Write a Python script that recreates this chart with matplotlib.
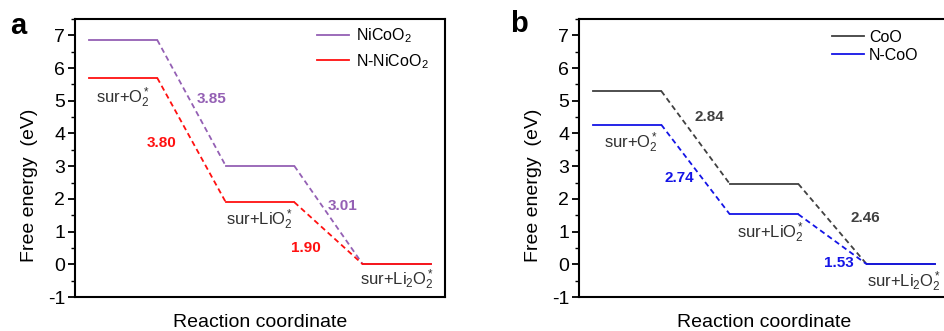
import matplotlib
matplotlib.use('Agg')
import matplotlib.pyplot as plt
from matplotlib.ticker import MultipleLocator

plt.rcParams['font.family'] = ['Liberation Sans', 'DejaVu Sans']
plt.rcParams['mathtext.fontset'] = 'custom'
plt.rcParams['mathtext.rm'] = 'Liberation Sans'
plt.rcParams['mathtext.it'] = 'Liberation Sans:italic'
plt.rcParams['mathtext.bf'] = 'Liberation Sans:bold'
plt.rcParams['axes.unicode_minus'] = False

# data
steps = ['sur+O$_2^*$', 'sur+LiO$_2^*$', 'sur+Li$_2$O$_2^*$']
nicoo2 = [6.86, 3.01, 0.0]
n_nicoo2 = [5.70, 1.90, 0.0]
coo = [5.30, 2.46, 0.0]
n_coo = [4.27, 1.53, 0.0]
gaps_a = [['3.85', '3.01'], ['3.80', '1.90']]
gaps_b = [['2.84', '2.46'], ['2.74', '1.53']]

purple = '#9460b4'
red = '#ff1010'
grey = '#404040'
blue = '#1414e6'
txt = '#303030'

fig = plt.figure(figsize=(9.44, 3.31), dpi=100)
ax1 = fig.add_axes([75 / 944, 1 - 297 / 331, 370 / 944, 278 / 331])
ax2 = fig.add_axes([579 / 944, 1 - 297 / 331, 370 / 944, 278 / 331])


def draw_path(ax, levels, color, label):
    for i, g in enumerate(levels):
        ax.plot([2 * i, 2 * i + 1], [g, g], color=color, lw=1.3,
                label=label if i == 0 else None)
        if i < len(levels) - 1:
            ax.plot([2 * i + 1, 2 * i + 2], [g, levels[i + 1]], color=color,
                    lw=1.3, ls=(0, (3, 2)))


def style(ax):
    ax.set_xlim(-0.2, 5.2)
    ax.set_ylim(-1, 7.5)
    ax.set_xticks([])
    ax.yaxis.set_major_locator(MultipleLocator(1))
    ax.yaxis.set_minor_locator(MultipleLocator(0.5))
    ax.tick_params(axis='y', which='major', direction='out', length=5,
                   width=1.3, labelsize=14, pad=2)
    ax.tick_params(axis='y', which='minor', direction='out', length=3,
                   width=1.0)
    for s in ax.spines.values():
        s.set_linewidth(1.5)
    ax.set_xlabel('Reaction coordinate', fontsize=14, labelpad=12)
    ax.set_ylabel('Free energy  (eV)', fontsize=14)
    ax.yaxis.set_label_coords(-0.10, 0.40)


# panel a
draw_path(ax1, nicoo2, purple, 'NiCoO$_2$')
draw_path(ax1, n_nicoo2, red, 'N-NiCoO$_2$')
style(ax1)
ax1.legend(loc='upper left', bbox_to_anchor=(0.653, 0.972), frameon=False,
           fontsize=11.5, handlelength=2.0, handletextpad=0.45,
           labelspacing=0.4, borderpad=0, borderaxespad=0)
ax1.text(0.5, 5.1, steps[0], fontsize=12, color=txt, ha='center', va='center')
ax1.text(2.5, 1.36, steps[1], fontsize=12, color=txt, ha='center', va='center')
ax1.text(4.5, -0.48, steps[2], fontsize=12, color=txt, ha='center', va='center')
ax1.text(1.79, 5.04, gaps_a[0][0], fontsize=11, color=purple, weight='bold',
         ha='center', va='center')
ax1.text(3.70, 1.79, gaps_a[0][1], fontsize=11, color=purple, weight='bold',
         ha='center', va='center')
ax1.text(1.07, 3.72, gaps_a[1][0], fontsize=11, color=red, weight='bold',
         ha='center', va='center')
ax1.text(3.17, 0.5, gaps_a[1][1], fontsize=11, color=red, weight='bold',
         ha='center', va='center')

# panel b
draw_path(ax2, coo, grey, 'CoO')
draw_path(ax2, n_coo, blue, 'N-CoO')
style(ax2)
ax2.legend(loc='upper left', bbox_to_anchor=(0.685, 0.962), frameon=False,
           fontsize=11.5, handlelength=2.0, handletextpad=0.3,
           labelspacing=0.22, borderpad=0, borderaxespad=0)
ax2.text(0.565, 3.72, steps[0], fontsize=12, color=txt, ha='center', va='center')
ax2.text(2.59, 0.96, steps[1], fontsize=12, color=txt, ha='center', va='center')
ax2.text(4.55, -0.55, steps[2], fontsize=12, color=txt, ha='center', va='center')
ax2.text(1.71, 4.5, gaps_b[0][0], fontsize=11, color=grey, weight='bold',
         ha='center', va='center')
ax2.text(3.98, 1.42, gaps_b[0][1], fontsize=11, color=grey, weight='bold',
         ha='center', va='center')
ax2.text(1.27, 2.65, gaps_b[1][0], fontsize=11, color=blue, weight='bold',
         ha='center', va='center')
ax2.text(3.59, 0.04, gaps_b[1][1], fontsize=11, color=blue, weight='bold',
         ha='center', va='center')

fig.text(10 / 944, 1 - 26 / 331, 'a', fontsize=21, weight='bold',
         ha='left', va='center')
fig.text(510 / 944, 1 - 24 / 331, 'b', fontsize=21, weight='bold',
         ha='left', va='center')

fig.savefig('out.png', dpi=100)
